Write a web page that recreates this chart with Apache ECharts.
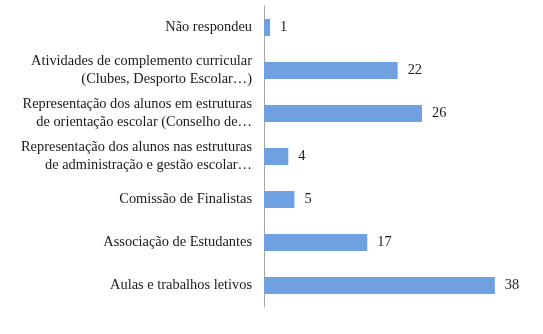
<!DOCTYPE html>
<html><head><meta charset="utf-8">
<script src="https://cdn.jsdelivr.net/npm/echarts@6/dist/echarts.min.js"></script>
<style>html,body{margin:0;padding:0;background:#fff}#c{width:543px;height:334px}</style>
</head><body><div id="c"></div>
<script>
const categories = [
  "Aulas e trabalhos letivos",
  "Associação de Estudantes",
  "Comissão de Finalistas",
  "Representação dos alunos nas estruturas\nde administração e gestão escolar…",
  "Representação dos alunos em estruturas\nde orientação escolar (Conselho de…",
  "Atividades de complemento curricular\n(Clubes, Desporto Escolar…)",
  "Não respondeu"
];
const values = [38, 17, 5, 4, 26, 22, 1];

const chart = echarts.init(document.getElementById('c'));
const font = '"Liberation Serif", "Times New Roman", serif';
chart.setOption({
  animation: false,
  grid: {left: 264, top: 6, width: 243, height: 301, containLabel: false},
  xAxis: {type: 'value', min: 0, max: 40, show: false},
  yAxis: {
    type: 'category', data: categories,
    axisLine: {show: true, lineStyle: {color: '#a6a6a6', width: 1}},
    axisTick: {show: false},
    axisLabel: {margin: 12, color: '#1a1a1a', fontFamily: font, fontSize: 14.4, lineHeight: 18, align: 'right'}
  },
  series: [{
    type: 'bar', data: values, barWidth: 17,
    itemStyle: {color: '#6fa0e0'},
    label: {show: true, position: 'right', distance: 10, color: '#1a1a1a', fontFamily: font, fontSize: 14.4}
  }]
});
</script></body></html>
